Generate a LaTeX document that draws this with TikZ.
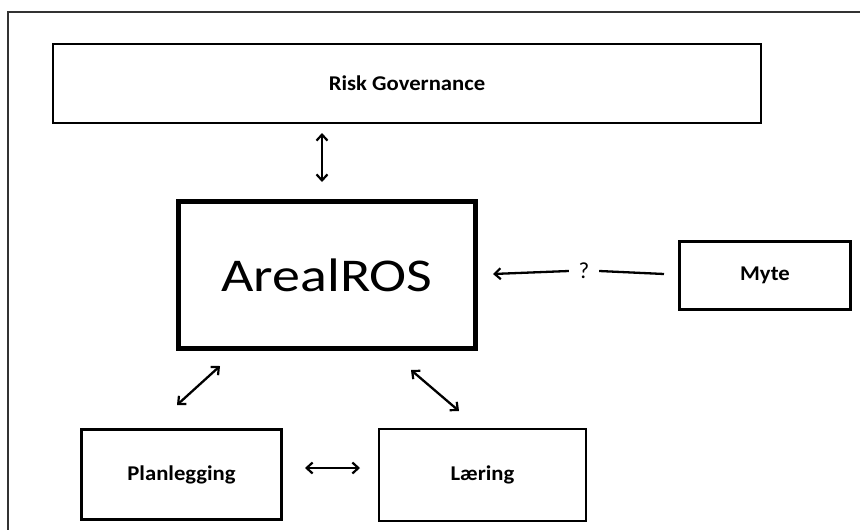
\documentclass[tikz,border=0pt]{standalone}
\usepackage{fontspec}
\setmainfont{Carlito}
\usetikzlibrary{arrows.meta}
\newcommand{\wide}[1]{\scalebox{1.08}[1]{#1}}
\tikzset{
  box/.style={draw=black, rectangle, inner sep=0pt, font=\fontsize{21}{25}\selectfont\bfseries},
  tip/.style={Straight Barb[length=6pt,width=11pt,line width=2.2pt]},
  conn/.style={line width=2.3pt, {Straight Barb[length=6pt,width=11pt,line width=2.2pt]}-{Straight Barb[length=6pt,width=11pt,line width=2.2pt]}},
  oneway/.style={line width=2.3pt, {Straight Barb[length=6pt,width=11pt,line width=2.2pt]}-},
  plain/.style={line width=2.3pt},
}
\begin{document}
\begin{tikzpicture}[x=1pt, y=-1pt]
\useasboundingbox (0,0) rectangle (860,530);
% outer frame (only top and left visible)
\draw[line width=1.5pt, color=black!80] (8,530) -- (8,12) -- (860,12);

\node[box, line width=1.8pt, minimum width=708pt, minimum height=79pt] (rg) at (407,83.5) {\wide{Risk Governance}};
\node[box, line width=5pt, minimum width=297pt, minimum height=147pt, font=\fontsize{47}{54}\selectfont] (ar) at (327,275) {\scalebox{1.19}[1]{ArealROS}};
\node[box, line width=2.8pt, minimum width=171pt, minimum height=68pt] (myte) at (765,275.5) {\wide{Myte}};
\node[box, line width=2.8pt, minimum width=200pt, minimum height=90pt] (plan) at (181.5,474.5) {\wide{Planlegging}};
\node[box, line width=1.3pt, minimum width=207pt, minimum height=92pt] (laer) at (482.5,475) {\wide{Læring}};

% connector end points
\coordinate (v1) at (322,133);
\coordinate (v2) at (322,182);
\coordinate (d1) at (177,405);
\coordinate (d2) at (220,366);
\coordinate (e1) at (411,370);
\coordinate (e2) at (459,411);
\coordinate (h1) at (305,468);
\coordinate (h2) at (360,468);
\coordinate (m1) at (493,274);
\coordinate (m2) at (664,274);

\draw[conn] (v1) -- (v2);
\draw[conn] (d1) -- (d2);
\draw[conn] (e1) -- (e2);
\draw[conn] (h1) -- (h2);

\node[font=\fontsize{23}{27}\selectfont, inner sep=0pt, minimum width=30pt] (q) at (584,271) {?};
\draw[oneway] (m1) -- (q.west);
\draw[plain] (q.east) -- (m2);
\end{tikzpicture}
\end{document}
